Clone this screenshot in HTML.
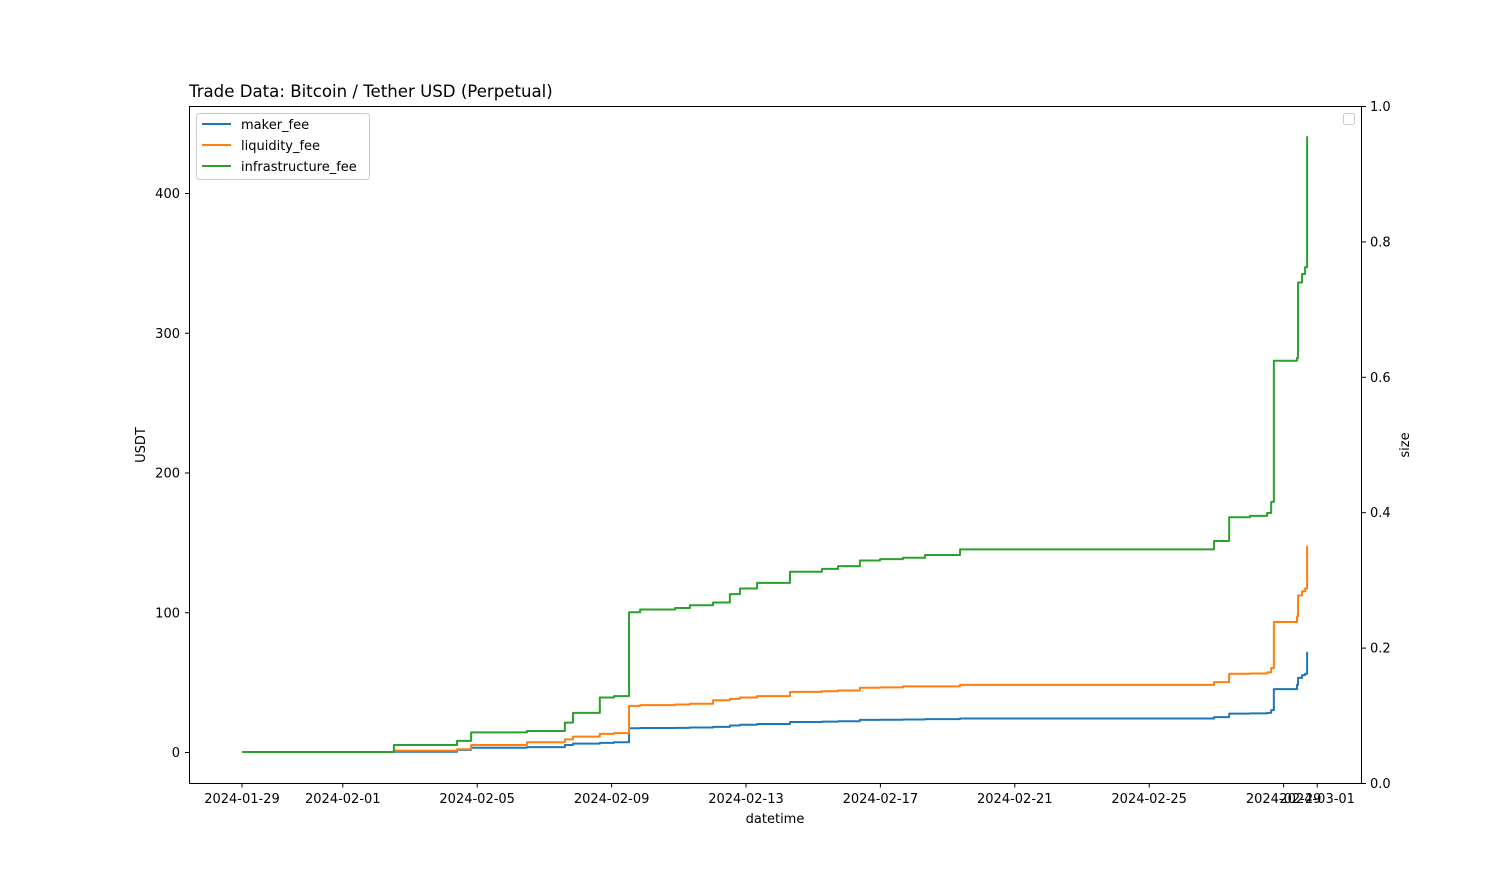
<!DOCTYPE html>
<html><head><meta charset="utf-8"><style>
body{margin:0;background:#fff;}
svg text{font-family:"DejaVu Sans","Liberation Sans",sans-serif;font-size:13px;fill:#000;}
</style></head><body>
<svg id="chart" width="1512" height="880" xmlns="http://www.w3.org/2000/svg">
<rect width="1512" height="880" fill="#fff"/>
<text x="189" y="97" style="font-size:16.6px">Trade Data: Bitcoin / Tether USD (Perpetual)</text>
<g id="grid"></g>
<g id="series"></g>
<rect x="189.5" y="106.5" width="1172" height="677" fill="none" stroke="#000" stroke-width="1"/>
<g id="axes"></g>
<text x="775" y="823" text-anchor="middle">datetime</text>
<text transform="translate(145,445) rotate(-90)" text-anchor="middle">USDT</text>
<text transform="translate(1409,445) rotate(-90)" text-anchor="middle">size</text>
<g>
<rect x="196.5" y="113.5" width="173" height="66" rx="3" fill="#fff" fill-opacity="0.8" stroke="#ccc"/>
<line x1="202" y1="124" x2="231" y2="124" stroke="#1f77b4" stroke-width="2"/>
<text x="241" y="129">maker_fee</text>
<line x1="202" y1="145" x2="231" y2="145" stroke="#ff7f0e" stroke-width="2"/>
<text x="241" y="150">liquidity_fee</text>
<line x1="202" y1="166" x2="231" y2="166" stroke="#2ca02c" stroke-width="2"/>
<text x="241" y="171">infrastructure_fee</text>
</g>
<rect x="1343.5" y="113.5" width="11" height="11" rx="2" fill="#fff" stroke="#ccc"/>
</svg>
<script>
// days since 2024-01-29
const days = [0,4.52,6.40,6.82,8.48,9.61,9.85,10.65,11.07,11.52,11.85,12.89,13.33,14.02,14.52,14.82,15.33,16.31,17.26,17.74,18.39,18.99,19.67,20.33,21.37,28.93,29.38,30.0,30.51,30.63,30.71,31.4,31.43,31.55,31.64,31.7,31.73];
const infraFee = [0,5,8,14,15,21,28,39,40,100,102,103,105,107,113,117,121,129,131,133,137,138,139,141,145,151,168,169,171,179,280,282,336,342,347,440,440];
const liquidityFee = [0,1,2,5,7,9,11,13,13.5,33,33.5,34,34.5,37,38,39,40,43,43.5,44,46,46.2,47,47,48,50,56,56.2,57,60,93,97,112,115,117,147,147];
const makerFee = [0,0.2,1.5,3,3.5,5,6,6.5,7,17,17.2,17.3,17.5,18,19,19.5,20,21.5,21.7,22,23,23.1,23.3,23.5,24,25,27.5,27.6,28,30,45,48,53,55,56,71,71];
const xTickLabels = ["2024-01-29","2024-02-01","2024-02-05","2024-02-09","2024-02-13","2024-02-17","2024-02-21","2024-02-25","2024-02-29","2024-03-01"];
const xTickDays = [0,3,7,11,15,19,23,27,31,32];
const yTicks = [0,100,200,300,400];
const y2Ticks = ["0.0","0.2","0.4","0.6","0.8","1.0"];

const NS="http://www.w3.org/2000/svg";
const xs = d => 242 + d*33.6;
const ys = v => 752 - v*1.3975;
const y2 = v => 783 - v*677;
function mk(tag, attrs, parent){const e=document.createElementNS(NS,tag);for(const k in attrs)e.setAttribute(k,attrs[k]);parent.appendChild(e);return e;}
const axes=document.getElementById('axes'), series=document.getElementById('series');
xTickDays.forEach((d,i)=>{
  const t=mk('line',{x1:xs(d),x2:xs(d),y1:783.5,y2:787.5,stroke:'#000'},axes);
  
  
  const l=mk('text',{x:xs(d),y:803,'text-anchor':'middle'},axes);l.textContent=xTickLabels[i];
  
  
});
yTicks.forEach(v=>{
  const t=mk('line',{x1:185,x2:189.5,y1:ys(v)+0.5,y2:ys(v)+0.5,stroke:'#000'},axes);
  
  
  const l=mk('text',{x:180,y:ys(v)+5,'text-anchor':'end'},axes);l.textContent=v;
  
  
});
y2Ticks.forEach(s=>{
  const v=parseFloat(s);
  const t=mk('line',{x1:1361.5,x2:1366,y1:y2(v)+0.5,y2:y2(v)+0.5,stroke:'#000'},axes);
  
  
  const l=mk('text',{x:1370,y:y2(v)+5},axes);l.textContent=s;
  
  
});
function stepPath(vals){
  let d='M'+xs(days[0])+','+ys(vals[0]);
  for(let i=1;i<days.length;i++){d+=' L'+xs(days[i])+','+ys(vals[i-1])+' L'+xs(days[i])+','+ys(vals[i]);}
  return d;
}
[[makerFee,'#1f77b4','maker-fee-line'],[liquidityFee,'#ff7f0e','liquidity-fee-line'],[infraFee,'#2ca02c','infrastructure-fee-line']].forEach(([v,c,n])=>{
  const p=mk('path',{d:stepPath(v),fill:'none',stroke:c,'stroke-width':2,'stroke-linejoin':'round'},series);
  
  
});
</script>
</body></html>
